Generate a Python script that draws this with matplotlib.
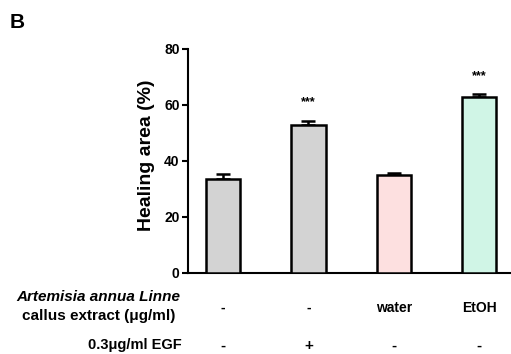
import matplotlib.pyplot as plt

plt.rcParams['font.family'] = ['Liberation Sans', 'DejaVu Sans']

# values
groups = ['ctrl', 'EGF', 'water', 'EtOH']
healing = [33.6, 52.9, 35.0, 62.9]
sem = [1.6, 1.5, 0.6, 1.0]
bar_colors = ['#d3d3d3', '#d3d3d3', '#fde0e0', '#d0f5e6']
stars = ['', '***', '', '***']
extract_row = ['-', '-', 'water', 'EtOH']
egf_row = ['-', '+', '-', '-']

fig = plt.figure(figsize=(5.11, 3.54), dpi=100)
ax = fig.add_axes([0.368, 0.229, 0.63, 0.633])

x = range(len(groups))
ax.bar(x, healing, width=0.4, color=bar_colors, edgecolor='black', linewidth=1.8, zorder=3)
ax.errorbar(x, healing, yerr=[[0]*len(sem), sem], fmt='none', ecolor='black',
            elinewidth=1.8, capsize=5, capthick=1.8, zorder=2)

for i, s in enumerate(stars):
    if s:
        ax.text(i, healing[i] + sem[i] + 6.5, s, ha='center', va='center',
                fontsize=9, fontweight='bold')

ax.set_xlim(-0.41, 3.36)
ax.set_ylim(0, 80)
ax.set_yticks([0, 20, 40, 60, 80])
ax.set_xticks([])
ax.spines['top'].set_visible(False)
ax.spines['right'].set_visible(False)
ax.spines['left'].set_linewidth(1.5)
ax.spines['bottom'].set_linewidth(1.5)
ax.tick_params(axis='y', width=1.5, length=4, labelsize=10, pad=2)
for lab in ax.get_yticklabels():
    lab.set_fontweight('bold')
ax.set_ylabel('Healing area (%)', fontsize=14, fontweight='bold')
ax.yaxis.set_label_coords(-0.102, 0.525)

# row labels under the bars
fig.text(98.5/511, 1 - 297/354, 'Artemisia annua Linne', ha='center', va='center',
         fontsize=11, fontweight='bold', style='italic')
fig.text(98.5/511, 1 - 316/354, 'callus extract (\u03bcg/ml)', ha='center', va='center',
         fontsize=11, fontweight='bold')
fig.text(182/511, 1 - 345/354, '0.3\u03bcg/ml EGF', ha='right', va='center',
         fontsize=10.5, fontweight='bold')
for i in x:
    ax.annotate(extract_row[i], xy=(i, 0), xycoords=('data', 'axes fraction'),
                xytext=(0, -(308 - 273)), textcoords='offset pixels',
                ha='center', va='center', fontsize=10, fontweight='bold')
    ax.annotate(egf_row[i], xy=(i, 0), xycoords=('data', 'axes fraction'),
                xytext=(0, -(346 - 273)), textcoords='offset pixels',
                ha='center', va='center', fontsize=11, fontweight='bold')

fig.text(10/511, 1 - 22/354, 'B', ha='left', va='center', fontsize=15, fontweight='bold')

fig.savefig('out.png', dpi=100)
